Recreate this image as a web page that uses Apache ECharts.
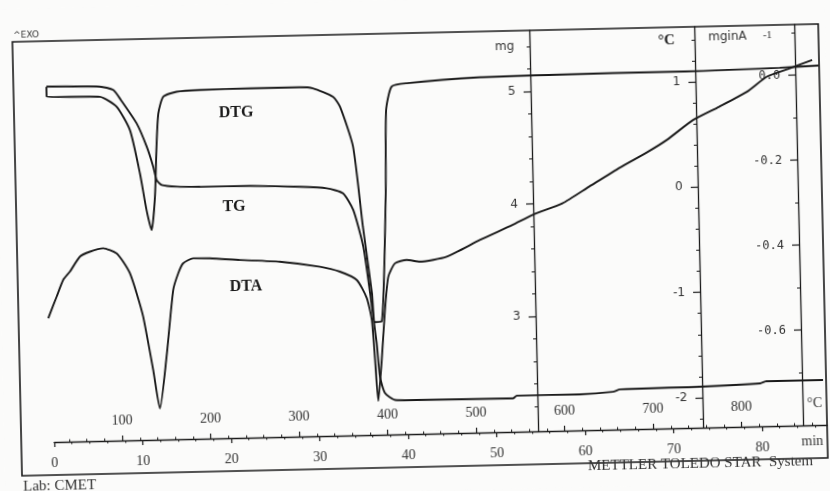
<!DOCTYPE html>
<html>
<head>
<meta charset="utf-8">
<script src="https://cdn.jsdelivr.net/npm/echarts@6/dist/echarts.min.js"></script>
<style>
html,body{margin:0;padding:0;background:#fbfbfa;overflow:hidden;}
#c{width:830px;height:491px;transform:rotate(-1.27deg);transform-origin:415px 245.5px;}
</style>
</head>
<body>
<div id="c"></div>
<script>
// ---- data (time in min) ----
const tgTime = [0.0, 6.05, 7.54, 8.38, 10.1, 11.18, 11.87, 12.22, 12.77, 14.5, 17.1, 22.75, 28.4, 31.41, 33.24, 34.36, 35.4, 36.05, 36.67, 36.96, 37.48, 38.6, 40.63, 51.93, 52.36, 59.5, 63.25, 64.04, 73.1, 79.9, 80.64, 87.0];
const tgMass = [5.140, 5.129, 5.097, 5.007, 4.796, 4.587, 4.407, 4.288, 4.243, 4.225, 4.220, 4.217, 4.200, 4.181, 4.133, 3.983, 3.655, 3.242, 2.796, 2.496, 2.350, 2.286, 2.282, 2.277, 2.301, 2.300, 2.316, 2.336, 2.344, 2.362, 2.381, 2.379];

const dtgTime = [0.0, 0.0, 6.02, 7.88, 9.33, 10.35, 11.0, 11.53, 11.99, 12.29, 12.58, 13.18, 14.7, 17.34, 23.0, 28.6, 30.1, 32.35, 33.12, 34.49, 35.41, 36.26, 36.53, 37.29, 38.07, 38.32, 39.0, 40.7, 49.0, 56.55, 64.05, 71.6, 82.9, 87.3];
const dtgRate = [0.011, -0.012, -0.015, -0.039, -0.095, -0.197, -0.283, -0.331, -0.253, -0.135, -0.057, -0.018, -0.007, -0.004, -0.003, -0.003, -0.006, -0.027, -0.051, -0.145, -0.335, -0.490, -0.559, -0.558, -0.256, -0.061, -0.006, 0.001, 0.011, 0.013, 0.014, 0.014, 0.018, 0.021];

const dtaTime = [-0.37, 0.63, 1.41, 2.19, 3.36, 4.5, 6.01, 7.51, 8.24, 8.97, 9.68, 10.36, 11.36, 12.02, 12.9, 13.82, 14.43, 15.0, 16.16, 18.05, 21.44, 25.94, 30.45, 32.7, 34.58, 35.66, 36.18, 36.45, 36.71, 37.2, 37.69, 38.15, 38.94, 40.27, 41.76, 44.8, 48.58, 52.3, 54.58, 58.0, 61.05, 64.6, 67.66, 69.94, 72.98, 75.94, 79.13, 81.42, 84.06, 86.57];
const dtaDelta = [-1.109, -0.906, -0.749, -0.671, -0.531, -0.486, -0.456, -0.507, -0.588, -0.699, -0.891, -1.114, -1.622, -1.988, -1.499, -0.867, -0.709, -0.616, -0.570, -0.574, -0.596, -0.621, -0.677, -0.728, -0.811, -0.983, -1.193, -1.574, -1.964, -1.576, -1.101, -0.786, -0.660, -0.631, -0.650, -0.608, -0.457, -0.321, -0.230, -0.126, 0.026, 0.202, 0.339, 0.453, 0.638, 0.758, 0.895, 1.034, 1.109, 1.183];

// ---- tick labels ----
const timeTicks = [0, 10, 20, 30, 40, 50, 60, 70, 80];
const timeMinor = [2,4,6,8,12,14,16,18,22,24,26,28,32,34,36,38,42,44,46,48,52,54,56,58,62,64,66,68,72,74,76,78,82,84,86];
const tempTicks = [100, 200, 300, 400, 500, 600, 700, 800];
const tempMinor = [40,60,80,120,140,160,180,220,240,260,280,320,340,360,380,420,440,460,480,520,540,560,580,620,640,660,680,720,740,760,780,820,840,860,880];
const mgTicks = [3, 4, 5];
const mgMinor = [2.2,2.4,2.6,2.8,3.2,3.4,3.6,3.8,4.2,4.4,4.6,4.8,5.2,5.4];
const degTicks = [-2, -1, 0, 1];
const degMinor = [-2.2,-1.8,-1.6,-1.4,-1.2,-0.8,-0.6,-0.4,-0.2,0.2,0.4,0.6,0.8,1.2,1.4];
const dtgTicks = [0, -0.2, -0.4, -0.6];
const dtgMinor = [0.1, -0.1, -0.3, -0.5, -0.7];

const INK = '#1a1a1a';
const TXT = '#333';
const zip = (a, b) => a.map((v, i) => [v, b[i]]);

const lineAx = {show: true, onZero: false, lineStyle: {color: INK, width: 1.3}};
const noLine = {show: false, onZero: false};

function yMain(min, max, offset, ticks, fmt, font) {
  return {
    type: 'value', gridIndex: 0, position: 'left', offset: offset, min: min, max: max,
    axisLine: lineAx, splitLine: {show: false},
    axisTick: {show: true, length: 7, customValues: ticks, lineStyle: {color: INK, width: 1.2}},
    axisLabel: {show: true, customValues: ticks, margin: 15, formatter: fmt,
      fontFamily: font, fontSize: 12, color: TXT}
  };
}
function yMinor(min, max, offset, ticks) {
  return {
    type: 'value', gridIndex: 0, position: 'left', offset: offset, min: min, max: max,
    axisLine: noLine, splitLine: {show: false}, axisLabel: {show: false},
    axisTick: {show: true, length: 3, customValues: ticks, lineStyle: {color: INK, width: 1}}
  };
}

const tMin = -3.7288, tMax = 87.345;
const T0 = 23, rate = 10;

const curve = (name, yIdx, data) => ({
  type: 'line', name: name, xAxisIndex: 0, yAxisIndex: yIdx, data: data,
  symbol: 'none', silent: true, clip: false, smooth: 0.2,
  lineStyle: {color: INK, width: 1.9}
});

const option = {
  backgroundColor: '#fbfbfa',
  animation: false,
  grid: [
    {left: 17, right: 7, top: 33, bottom: 57, outerBoundsMode: 'none'},
    {left: 50, right: 7, top: 33, bottom: 57, outerBoundsMode: 'none'}
  ],
  xAxis: [
    {type: 'value', gridIndex: 0, min: tMin, max: tMax, show: false},
    {type: 'value', gridIndex: 1, position: 'bottom', min: 0, max: tMax,
      axisLine: lineAx, splitLine: {show: false},
      axisTick: {show: true, length: 5, customValues: timeTicks, lineStyle: {color: INK, width: 1.2}},
      axisLabel: {customValues: timeTicks, margin: 14, fontFamily: 'Liberation Serif', fontSize: 14, color: TXT}},
    {type: 'value', gridIndex: 1, position: 'bottom', min: 0, max: tMax,
      axisLine: noLine, splitLine: {show: false}, axisLabel: {show: false},
      axisTick: {show: true, length: 2.5, customValues: timeMinor, lineStyle: {color: INK, width: 1}}},
    {type: 'value', gridIndex: 0, position: 'bottom', min: T0 + rate * tMin, max: T0 + rate * tMax,
      axisLine: noLine, splitLine: {show: false},
      axisTick: {show: true, inside: true, length: 5, customValues: tempTicks, lineStyle: {color: INK, width: 1.2}},
      axisLabel: {inside: true, customValues: tempTicks, margin: 13, fontFamily: 'Liberation Serif', fontSize: 14, color: TXT}},
    {type: 'value', gridIndex: 0, position: 'bottom', min: T0 + rate * tMin, max: T0 + rate * tMax,
      axisLine: noLine, splitLine: {show: false}, axisLabel: {show: false},
      axisTick: {show: true, inside: true, length: 2.5, customValues: tempMinor, lineStyle: {color: INK, width: 1}}}
  ],
  yAxis: [
    yMain(1.9796, 5.544, -517, mgTicks, v => String(v), 'DejaVu Sans'),
    yMinor(1.9796, 5.544, -517, mgMinor),
    yMain(-2.2854, 1.5228, -682, degTicks, v => String(v), 'DejaVu Sans'),
    yMinor(-2.2854, 1.5228, -682, degMinor),
    yMain(-0.82412, 0.11874, -782, dtgTicks, v => (v === 0 ? '0.0' : v.toFixed(1)), 'DejaVu Sans Mono'),
    yMinor(-0.82412, 0.11874, -782, dtgMinor),
    {type: 'value', gridIndex: 1, show: false}
  ],
  series: [
    curve('TG', 0, zip(tgTime, tgMass)),
    curve('DTG', 4, zip(dtgTime, dtgRate)),
    curve('DTA', 2, zip(dtaTime, dtaDelta))
  ],
  graphic: [
    {type: 'rect', shape: {x: 17, y: 33, width: 806, height: 434}, style: {fill: 'none', stroke: INK, lineWidth: 1.6}, silent: true},
    {type: 'text', x: 18, y: 27, style: {text: '^EXO', font: '9px "DejaVu Sans"', fill: TXT, align: 'left', verticalAlign: 'middle'}},
    {type: 'text', x: 509, y: 49, style: {text: 'mg', font: '12px "DejaVu Sans"', fill: TXT, align: 'center', verticalAlign: 'middle'}},
    {type: 'text', x: 671, y: 46, style: {text: '°C', font: 'bold 15px "Liberation Serif"', fill: '#222', align: 'center', verticalAlign: 'middle'}},
    {type: 'text', x: 732, y: 44, style: {text: 'mginA', font: '12px "DejaVu Sans"', fill: TXT, align: 'center', verticalAlign: 'middle'}},
    {type: 'text', x: 772, y: 43, style: {text: '-1', font: '11px "Liberation Serif"', fill: TXT, align: 'center', verticalAlign: 'middle'}},
    {type: 'text', x: 239, y: 109, style: {text: 'DTG', font: 'bold 16px "Liberation Serif"', fill: '#1a1a1a', align: 'center', verticalAlign: 'middle'}},
    {type: 'text', x: 235, y: 203, style: {text: 'TG', font: 'bold 16px "Liberation Serif"', fill: '#1a1a1a', align: 'center', verticalAlign: 'middle'}},
    {type: 'text', x: 245, y: 283, style: {text: 'DTA', font: 'bold 16px "Liberation Serif"', fill: '#1a1a1a', align: 'center', verticalAlign: 'middle'}},
    {type: 'text', x: 811, y: 412, style: {text: '°C', font: '14px "Liberation Serif"', fill: TXT, align: 'center', verticalAlign: 'middle'}},
    {type: 'text', x: 797, y: 450, style: {text: 'min', font: '14px "Liberation Serif"', fill: TXT, align: 'left', verticalAlign: 'middle'}},
    {type: 'text', x: 583, y: 470, style: {text: 'METTLER TOLEDO STAR  System', font: '15px "Liberation Serif"', fill: TXT, align: 'left', verticalAlign: 'middle'}},
    {type: 'text', x: 18, y: 478, style: {text: 'Lab: CMET', font: '15px "Liberation Serif"', fill: TXT, align: 'left', verticalAlign: 'middle'}}
  ]
};

const chart = echarts.init(document.getElementById('c'), null, {renderer: 'canvas'});
chart.setOption(option);
</script>
</body>
</html>
